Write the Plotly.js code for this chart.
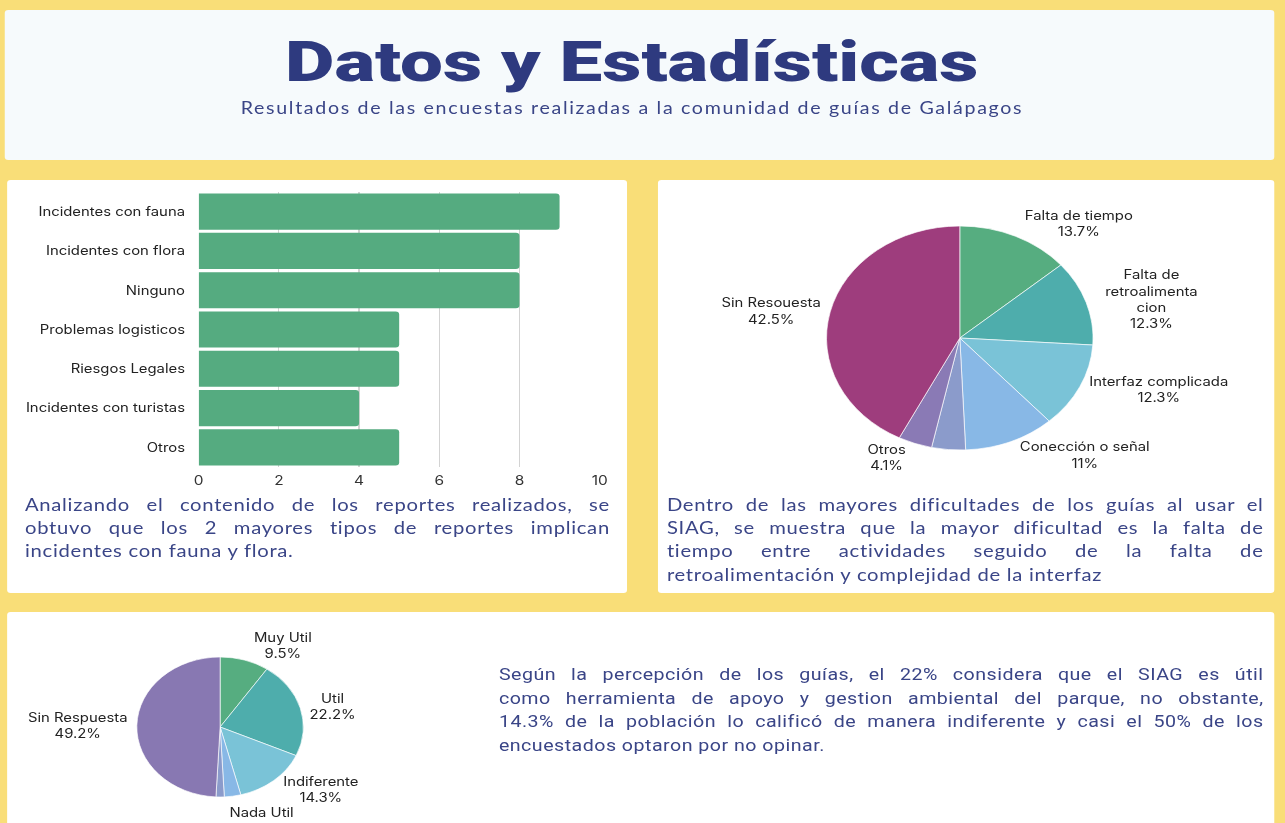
<!DOCTYPE html>
<html><head><meta charset="utf-8">
<script src="https://cdn.plot.ly/plotly-3.0.1.min.js"></script>
<style>
html,body{margin:0;padding:0;width:1285px;height:823px;overflow:hidden;background:#F9DE78;}
#stage{position:absolute;left:0;top:0;width:1080px;height:823px;transform:scaleX(1.1898);transform-origin:0 0;}
.box{position:absolute;background:#fff;border-radius:3px;}
#header{left:4.2px;top:10px;width:1067px;height:150px;background:#F6FAFC;}
#title{position:absolute;left:0;top:24px;width:1054px;text-align:center;font-family:Roboto,"DejaVu Sans",sans-serif;font-weight:900;font-size:56px;line-height:56px;color:#2E3A7F;letter-spacing:0px;transform:scaleX(1.145);transform-origin:527px 0;}
#subtitle{position:absolute;left:0;top:88px;width:1054px;text-align:center;font-family:Lato,"Noto Sans",sans-serif;font-size:16.5px;line-height:20px;color:#3A4587;letter-spacing:1.4px;}
.txt{position:absolute;font-family:Lato,"Noto Sans",sans-serif;font-size:17px;color:#3A4587;letter-spacing:0.6px;}
.txt div{text-align:justify;text-align-last:justify;white-space:nowrap;}
.txt div.last{text-align-last:left;}
.clip{position:absolute;overflow:hidden;}
path.textline{display:none;}
</style></head>
<body>
<div id="stage">
  <div class="box" id="header">
    <div id="title">Datos y Estadísticas</div>
    <div id="subtitle">Resultados de las encuestas realizadas a la comunidad de guías de Galápagos</div>
  </div>
  <div class="box" style="left:5.9px;top:180px;width:521px;height:413px;"></div>
  <div class="box" style="left:553px;top:180px;width:518px;height:413px;"></div>
  <div class="box" style="left:5.9px;top:612px;width:1065px;height:230px;"></div>

  <div class="clip" style="left:5.9px;top:180px;width:521px;height:309px;"><div id="bar" style="width:521px;height:340px;"></div></div>
  <div class="clip" style="left:553px;top:180px;width:518px;height:310px;"><div id="pie1" style="width:518px;height:310px;"></div></div>
  <div class="clip" style="left:5.9px;top:612px;width:400px;height:211px;"><div id="pie2" style="width:400px;height:230px;"></div></div>

  <div class="txt" style="left:21px;top:492.5px;width:491.6px;line-height:23px;">
    <div>Analizando el contenido de los reportes realizados, se</div>
    <div>obtuvo que los 2 mayores tipos de reportes implican</div>
    <div class="last">incidentes con fauna y flora.</div>
  </div>
  <div class="txt" style="left:560.5px;top:492.5px;width:501.5px;line-height:23.4px;">
    <div>Dentro de las mayores dificultades de los guías al usar el</div>
    <div>SIAG, se muestra que la mayor dificultad es la falta de</div>
    <div>tiempo entre actividades seguido de la falta de</div>
    <div class="last">retroalimentación y complejidad de la interfaz</div>
  </div>
  <div class="txt" style="left:419.3px;top:663px;width:642.7px;line-height:23.7px;font-family:Roboto,'Noto Sans',sans-serif;font-size:16.5px;letter-spacing:0.4px;">
    <div>Según la percepción de los guías, el 22% considera que el SIAG es útil</div>
    <div>como herramienta de apoyo y gestion ambiental del parque, no obstante,</div>
    <div>14.3% de la población lo calificó de manera indiferente y casi el 50% de los</div>
    <div class="last">encuestados optaron por no opinar.</div>
  </div>
</div>
<script>
// ---- Data ----
const barCategories = ['Incidentes con fauna','Incidentes con flora','Ninguno','Problemas logisticos','Riesgos Legales','Incidentes con turistas','Otros'];
const barValues = [9, 8, 8, 5, 5, 4, 5];
const barTicks = [0, 2, 4, 6, 8, 10];

const difLabels = ['Falta de tiempo','Falta de<br>retroalimenta<br>cion','Interfaz complicada','Conección o señal','Otra dificultad','Otros','Sin Resouesta'];
const difValues = [13.7, 12.3, 12.3, 11, 4.1, 4.1, 42.5];
const difShowText = [true, true, true, true, false, true, true];

const utilLabels = ['Muy Util','Util','Indiferente','Poco Util','Nada Util','Sin Respuesta'];
const utilValues = [9.5, 22.2, 14.3, 3.2, 1.6, 49.2];
const utilShowText = [true, true, true, false, true, true];

// ---- Styles ----
const labelFont = {family: 'Inter, "Noto Sans", sans-serif', size: 12.5, color: '#222'};
const difColors = ['#56AD80','#4EADAC','#7AC3D7','#88B8E6','#8B9BCB','#8A7AB5','#9E3D7D'];
const utilColors = ['#56AD80','#4EADAC','#7AC3D7','#88B8E6','#8B9BCB','#8878B2'];
const cfg = {displayModeBar: false, staticPlot: true};

Plotly.newPlot('bar', [{
  type: 'bar', orientation: 'h', y: barCategories, x: barValues,
  marker: {color: '#55AB80', cornerradius: 3}
}], {
  width: 521, height: 340,
  margin: {l: 161.3, r: 22.7, t: 12.4, b: 53.4},
  paper_bgcolor: 'rgba(0,0,0,0)', plot_bgcolor: 'rgba(0,0,0,0)',
  bargap: 0.08, showlegend: false,
  xaxis: {range: [0, 10], tickvals: barTicks, showgrid: true, gridcolor: '#D3D3D3', gridwidth: 1,
          ticks: 'outside', ticklen: 1, tickcolor: 'rgba(0,0,0,0)',
          zeroline: false, showline: false, tickfont: {family: labelFont.family, size: 13, color: '#333'}, automargin: false},
  yaxis: {autorange: 'reversed', tickfont: {family: labelFont.family, size: 12.5, color: '#222'},
          ticks: 'outside', ticklen: 8, tickcolor: 'rgba(0,0,0,0)', showgrid: false, zeroline: false, automargin: false}
}, cfg);

function pieTrace(labels, values, colors, show, domain) {
  return {
    type: 'pie', labels: labels, values: values, sort: false, direction: 'clockwise', rotation: 0,
    marker: {colors: colors, line: {color: '#ffffff', width: 0.6}},
    textposition: 'outside',
    texttemplate: show.map(s => s ? '%{label}<br>%{percent}' : ''),
    textfont: labelFont, outsidetextfont: labelFont,
    domain: domain, hoverinfo: 'skip'
  };
}

Plotly.newPlot('pie1', [pieTrace(difLabels, difValues, difColors, difShowText, {x: [0.2735, 0.706], y: [0.129, 0.8516]})], {
  width: 518, height: 310, margin: {l: 0, r: 0, t: 0, b: 0},
  paper_bgcolor: 'rgba(0,0,0,0)', showlegend: false
}, cfg);

Plotly.newPlot('pie2', [pieTrace(utilLabels, utilValues, utilColors, utilShowText, {x: [0.2725, 0.6225], y: [0.1957, 0.8043]})], {
  width: 400, height: 230, margin: {l: 0, r: 0, t: 0, b: 0},
  paper_bgcolor: 'rgba(0,0,0,0)', showlegend: false
}, cfg);
</script>
</body></html>
